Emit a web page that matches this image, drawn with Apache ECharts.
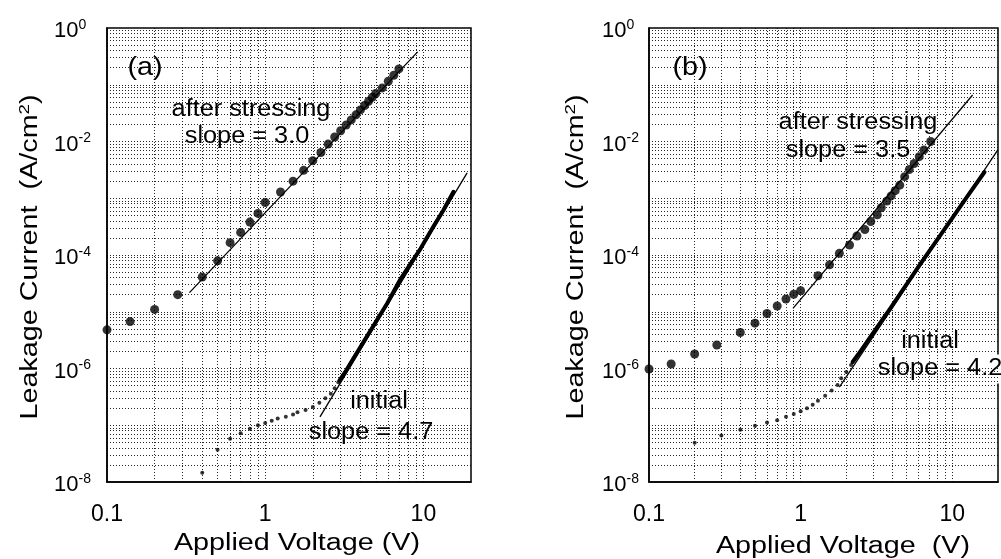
<!DOCTYPE html>
<html>
<head>
<meta charset="utf-8">
<script src="https://cdn.jsdelivr.net/npm/echarts@6/dist/echarts.min.js"></script>
<style>
  html, body { margin: 0; padding: 0; background: #fff; }
  #chart { width: 1001px; height: 559px; }
</style>
</head>
<body>
<div id="chart"></div>
<script>
// ====== (a) ======
const aStressV = [0.1, 0.14, 0.2, 0.28, 0.4, 0.5, 0.6, 0.7, 0.8, 0.9, 1.0, 1.25, 1.5, 1.75, 2.0, 2.25, 2.5, 2.75, 3.0, 3.25, 3.5, 3.75, 4.0, 4.25, 4.5, 4.75, 5.0, 5.5, 6.0, 6.5, 7.0];
const aStressJ = [4.8e-6, 6.7e-6, 1.1e-5, 2.0e-5, 4.1e-5, 7.9e-5, 1.65e-4, 2.5e-4, 3.8e-4, 5.4e-4, 8.4e-4, 1.29e-3, 2.0e-3, 3.1e-3, 4.6e-3, 6.4e-3, 9.0e-3, 1.2e-2, 1.55e-2, 1.95e-2, 2.4e-2, 2.95e-2, 3.6e-2, 4.3e-2, 5.1e-2, 6.0e-2, 7.0e-2, 8.8e-2, 0.115, 0.147, 0.19];
const aDotV = [0.4, 0.5, 0.6, 0.7, 0.8, 0.9, 1.0, 1.1, 1.2, 1.35, 1.5, 1.6, 1.8, 2.0, 2.2, 2.4, 2.6, 2.75, 2.9];
const aDotJ = [1.46e-8, 3.7e-8, 5.8e-8, 7.2e-8, 8.7e-8, 1.0e-7, 1.1e-7, 1.2e-7, 1.32e-7, 1.41e-7, 1.55e-7, 1.69e-7, 1.86e-7, 2.1e-7, 2.5e-7, 3.0e-7, 3.6e-7, 4.5e-7, 5.7e-7];
const aThickV = [2.95, 3.1, 3.25, 3.5, 4.4, 5.9, 7.1, 9.6, 11.6, 13.4, 15.5];
const aThickJ = [6.2e-7, 7.6e-7, 9.2e-7, 1.3e-6, 3.7e-6, 1.4e-5, 3.6e-5, 1.3e-4, 3.2e-4, 6.2e-4, 1.3e-3];
const aFitStressV = [0.332, 9.2];
const aFitStressJ = [2.17e-5, 0.38];
const aFitInitV = [2.22, 18.9];
const aFitInitJ = [1.4e-7, 2.8e-3];

// ====== (b) ======
const bStressV = [0.1, 0.14, 0.2, 0.28, 0.4, 0.5, 0.6, 0.7, 0.8, 0.9, 1.0, 1.3, 1.55, 1.8, 2.1, 2.35, 2.65, 2.9, 3.2, 3.4, 3.7, 3.95, 4.2, 4.5, 4.85, 5.2, 5.6, 6.05, 6.5, 7.2];
const bStressJ = [9.8e-7, 1.2e-6, 1.8e-6, 2.6e-6, 4.3e-6, 6.3e-6, 9.3e-6, 1.26e-5, 1.68e-5, 2.03e-5, 2.35e-5, 4.3e-5, 6.7e-5, 1.07e-4, 1.5e-4, 2.16e-4, 2.8e-4, 3.9e-4, 5.1e-4, 6.8e-4, 8.9e-4, 1.1e-3, 1.36e-3, 1.7e-3, 2.4e-3, 3.2e-3, 4.1e-3, 5.4e-3, 7.1e-3, 1.0e-2];
const bDotV = [0.2, 0.3, 0.4, 0.5, 0.6, 0.7, 0.8, 0.9, 1.0, 1.1, 1.2, 1.3, 1.45, 1.6, 1.75, 1.85, 2.0, 2.15];
const bDotJ = [4.9e-8, 6.6e-8, 8.3e-8, 9.8e-8, 1.12e-7, 1.23e-7, 1.41e-7, 1.58e-7, 1.76e-7, 2.0e-7, 2.3e-7, 2.7e-7, 3.3e-7, 4.1e-7, 5.1e-7, 6.7e-7, 8.7e-7, 1.15e-6];
const bThickV = [2.2, 2.4, 3.0, 3.9, 6.0, 9.3, 12.0, 16.3];
const bThickJ = [1.3e-6, 1.78e-6, 4.2e-6, 1.15e-5, 6.3e-5, 3.4e-4, 9.1e-4, 2.9e-3];
const bFitStressV = [0.89, 13.6];
const bFitStressJ = [1.15e-5, 6.6e-2];
const bFitInitV = [1.8, 20];
const bFitInitJ = [4.7e-7, 7.2e-3];

// axis ranges / tick labels
const xMin = 0.1, xMax = 20;
const yMin = 1e-8, yMax = 1;
const xTickLabels = [0.1, 1, 10];
const yTickExponents = [0, -2, -4, -6, -8];

const FONT = '"Liberation Sans", Arial, Helvetica, sans-serif';

const zip = (xs, ys) => xs.map((x, i) => [x, ys[i]]);

// log graph-paper lines (1..9 x 10^n)
function paperLines() {
  const out = [];
  for (let e = -1; e <= 1; e++) {
    for (let m = 1; m <= 9; m++) {
      const v = m * Math.pow(10, e);
      if (v > xMin * 1.0001 && v < xMax * 0.9999) out.push({ xAxis: v });
    }
  }
  for (let e = -8; e <= -1; e++) {
    for (let m = 1; m <= 9; m++) {
      const v = m * Math.pow(10, e);
      if (v > yMin * 1.0001 && v < yMax * 0.9999) out.push({ yAxis: v });
    }
  }
  return out;
}

function panelSeries(i, d) {
  const common = { xAxisIndex: i, yAxisIndex: i, animation: false, silent: true };
  return [
    {
      ...common, type: 'line', data: [], z: 1,
      markLine: {
        silent: true, symbol: 'none', animation: false, precision: 12,
        label: { show: false },
        lineStyle: { color: '#000', type: [1, 2], width: 1, opacity: 0.85 },
        data: paperLines(),
      },
    },
    { ...common, type: 'line', data: zip(d.fsV, d.fsJ), showSymbol: false, z: 10,
      lineStyle: { color: '#000', width: 1.3 } },
    { ...common, type: 'line', data: zip(d.fiV, d.fiJ), showSymbol: false, z: 10,
      lineStyle: { color: '#000', width: 1.3 } },
    { ...common, type: 'line', data: zip(d.tV, d.tJ), showSymbol: false, z: 10,
      lineStyle: { color: '#000', width: 4, cap: 'round', join: 'round' } },
    { ...common, type: 'scatter', data: zip(d.dV, d.dJ), symbolSize: 4, z: 11,
      itemStyle: { color: '#000' } },
    { ...common, type: 'scatter', data: zip(d.sV, d.sJ), symbolSize: 9, z: 11,
      itemStyle: { color: '#000' } },
  ];
}

function xAxisOf(i) {
  return {
    type: 'log', gridIndex: i, min: xMin, max: xMax,
    axisLine: { show: true, lineStyle: { color: '#000', width: 1.5 } },
    axisTick: { show: false },
    splitLine: { show: false },
    axisLabel: {
      margin: 21, fontSize: 23, color: '#000', fontFamily: FONT,
      formatter: (v) => {
        const hit = xTickLabels.find((t) => Math.abs(v / t - 1) < 1e-6);
        return hit === undefined ? '' : String(hit);
      },
    },
  };
}

// y tick labels are drawn as text at the axis' own pixel positions (see below)
function yAxisOf(i) {
  return {
    type: 'log', gridIndex: i, min: yMin, max: yMax,
    axisLine: { show: true, lineStyle: { color: '#000', width: 1.5 } },
    axisTick: { show: false },
    splitLine: { show: false },
    axisLabel: { show: false },
  };
}

function note(text, x, y, size, sx) {
  return {
    type: 'text', x, y, scaleX: sx, z: 5, silent: true,
    style: {
      text, fill: '#000', font: size + 'px ' + FONT,
      align: 'center', verticalAlign: 'middle',
      textAlign: 'center', textVerticalAlign: 'middle',
      backgroundColor: '#fff', padding: [3, 5],
    },
  };
}

function axisTitle(text, x, y, rot, sx) {
  return {
    type: 'text', x, y, rotation: rot, scaleX: sx, z: 5, silent: true,
    style: {
      text, fill: '#000', font: '23px ' + FONT, lineHeight: 28,
      align: 'center', verticalAlign: 'middle',
      textAlign: 'center', textVerticalAlign: 'middle',
      rich: { s: { fontSize: 15, verticalAlign: 'top', fontFamily: FONT, fill: '#000' } },
    },
  };
}

const graphics = [
  note('(a)', 145, 68, 25, 1.15),
  note('after stressing', 251, 110, 23, 1.1),
  note('slope = 3.0', 247, 137, 23, 1.1),
  note('initial', 379, 402, 23, 1.1),
  note('slope = 4.7', 371, 433, 23, 1.1),
  note('(b)', 690, 68, 25, 1.15),
  note('after stressing', 858, 123, 23, 1.1),
  note('slope = 3.5', 848, 151, 23, 1.1),
  note('initial', 930, 342, 23, 1.1),
  note('slope = 4.2', 940, 369, 23, 1.1),
  axisTitle('Applied Voltage (V)', 297, 544, 0, 1.25),
  axisTitle('Applied Voltage  (V)', 843, 547, 0, 1.25),
  axisTitle('Leakage Current  (A/cm{s|2})', 31, 257, Math.PI / 2, 1.25),
  axisTitle('Leakage Current  (A/cm{s|2})', 577, 257, Math.PI / 2, 1.25),
];

const option = {
  animation: false,
  backgroundColor: '#fff',
  textStyle: { fontFamily: FONT },
  grid: [
    { left: 107, top: 28, width: 364, height: 454, show: true, borderColor: '#000', borderWidth: 1.5, backgroundColor: 'transparent' },
    { left: 649, top: 28, width: 364, height: 454, show: true, borderColor: '#000', borderWidth: 1.5, backgroundColor: 'transparent' },
  ],
  xAxis: [xAxisOf(0), xAxisOf(1)],
  yAxis: [yAxisOf(0), yAxisOf(1)],
  series: [
    ...panelSeries(0, { sV: aStressV, sJ: aStressJ, dV: aDotV, dJ: aDotJ, tV: aThickV, tJ: aThickJ,
      fsV: aFitStressV, fsJ: aFitStressJ, fiV: aFitInitV, fiJ: aFitInitJ }),
    ...panelSeries(1, { sV: bStressV, sJ: bStressJ, dV: bDotV, dJ: bDotJ, tV: bThickV, tJ: bThickJ,
      fsV: bFitStressV, fsJ: bFitStressJ, fiV: bFitInitV, fiJ: bFitInitJ }),
  ],
  graphic: graphics,
};

const chart = echarts.init(document.getElementById('chart'));
chart.setOption(option);

// 10^n tick labels, placed through each y axis' scale
const labelLeft = [54, 602];
const tickLabels = [];
[0, 1].forEach((i) => {
  yTickExponents.forEach((e) => {
    const py = chart.convertToPixel({ yAxisIndex: i }, Math.pow(10, e));
    tickLabels.push({
      type: 'text', x: labelLeft[i], y: py + 3, z: 5, silent: true,
      style: {
        text: '10{s|' + (e === 0 ? '0' : '-' + -e) + '}',
        fill: '#000', font: '22px ' + FONT, lineHeight: 26,
        align: 'left', verticalAlign: 'middle',
        textAlign: 'left', textVerticalAlign: 'middle',
        rich: { s: { fontSize: 14, verticalAlign: 'top', fontFamily: FONT, fill: '#000' } },
      },
    });
  });
});
chart.setOption({ graphic: graphics.concat(tickLabels) });
</script>
</body>
</html>
